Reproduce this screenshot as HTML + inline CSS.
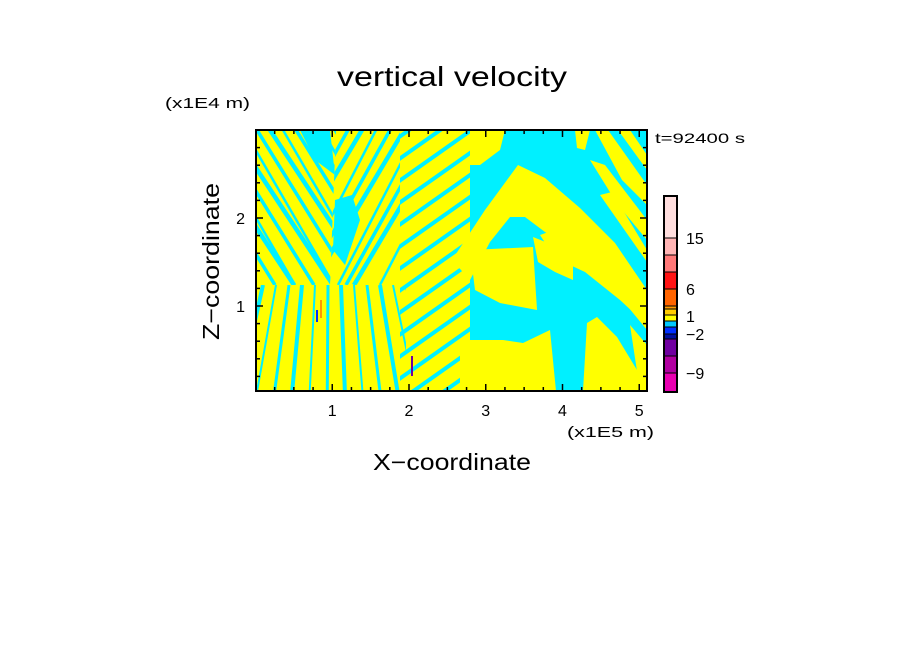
<!DOCTYPE html>
<html><head><meta charset="utf-8"><style>
body{margin:0;background:#fff;}
svg text{font-family:"Liberation Sans","DejaVu Sans",sans-serif;fill:#000;}
</style></head><body>
<svg id="chart" width="904" height="654" viewBox="0 0 904 654" xmlns="http://www.w3.org/2000/svg">
<defs>
<clipPath id="pc"><rect x="256" y="130" width="391" height="261"/></clipPath>
<clipPath id="ul"><polygon points="256,130 336,130 330,285 256,285"/></clipPath>
<clipPath id="ur"><polygon points="336,130 400,130 400,285 330,285"/></clipPath>
<clipPath id="lo"><rect x="256" y="285" width="150" height="106"/></clipPath>
<clipPath id="mid"><rect x="400" y="130" width="70" height="261"/></clipPath>
</defs>
<rect width="904" height="654" fill="#fff"/>
<text x="337" y="86" font-size="28" textLength="230" lengthAdjust="spacingAndGlyphs">vertical velocity</text>
<text x="165" y="108" font-size="15" textLength="85" lengthAdjust="spacingAndGlyphs">(x1E4 m)</text>
<text x="655" y="143" font-size="14" textLength="90" lengthAdjust="spacingAndGlyphs">t=92400 s</text>
<text x="567" y="437" font-size="15" textLength="87" lengthAdjust="spacingAndGlyphs">(x1E5 m)</text>
<text x="373" y="470" font-size="23" textLength="158" lengthAdjust="spacingAndGlyphs">X−coordinate</text>
<text transform="translate(219,340) rotate(-90)" font-size="23" textLength="157" lengthAdjust="spacingAndGlyphs">Z−coordinate</text>
<g id="field" clip-path="url(#pc)">
 <rect x="256" y="130" width="391" height="261" fill="#ffff00"/>
 <g id="gul" clip-path="url(#ul)"></g><g id="gur" clip-path="url(#ur)"></g><g id="glo" clip-path="url(#lo)"></g><g id="gmid" clip-path="url(#mid)"></g><g id="gright"></g>
</g>
<g id="axes"></g>
<g id="cbar"></g>
</svg>
<script>
const xTicks=[1,2,3,4,5];
const yTicks=[1,2];
const cbColors=["#e800b0","#b000a0","#7000a0","#0010a0","#0030ff","#00c8ff","#ffff00","#ffcc00","#ff9900","#ff6400","#ff1414","#ff7878","#ffb4b4","#ffdede"];
const cbUnits=[19,17,17,5,7,6,6,6,3,17,17,17,17,42];
const cbLabels=["-9","−2","1","6","15"];
const cbLabelY=[373,334,316,289,238];
const NS="http://www.w3.org/2000/svg";
const X0=256,X1=647,Y0=130,Y1=391;
const xs=v=>255.5+v*76.75;
const ys=v=>394-v*88;
function mk(t,a,p){const e=document.createElementNS(NS,t);for(const k in a)e.setAttribute(k,a[k]);p.appendChild(e);return e;}
const Y='#ffff00',Cy='#00f0ff';
const gul=document.getElementById('gul'),gur=document.getElementById('gur'),glo=document.getElementById('glo'),gmid=document.getElementById('gmid'),gr=document.getElementById('gright');
let k=0;
for(let x=140;x<=340;x+=13){k++;mk('line',{x1:x,y1:130,x2:x+90+(k%3)*6,y2:285,stroke:Cy,'stroke-width':2.5+(k%3)},gul);}
mk('path',{d:'M300 130 L330 130 L335 175 L315 160 Z',fill:Cy},gul);
for(let x=320;x<=470;x+=14){k++;mk('line',{x1:x,y1:130,x2:x-80-(k%3)*6,y2:285,stroke:Cy,'stroke-width':2.5+(k%3)},gur);}
mk('path',{d:'M335 200 L352 195 L360 220 L345 265 L333 250 Z',fill:Cy},gur);
for(let x=250;x<=420;x+=13){k++;const d=(x-330)*0.35;mk('line',{x1:x,y1:285,x2:x+d,y2:391,stroke:Cy,'stroke-width':2+(k%3)},glo);}
for(let y=140;y<=440;y+=22){mk('line',{x1:395,y1:y,x2:480,y2:y-60,stroke:Cy,'stroke-width':4},gmid);}
mk('rect',{x:470,y:130,width:177,height:261,fill:Cy},gr);
const polys=[
 [[470,130],[505,130],[500,150],[480,165],[470,165]],
 [[575,130],[590,130],[585,150],[577,148]],
 [[452,260],[485,210],[518,165],[545,178],[580,208],[615,243],[647,290],[647,330],[610,285],[575,252],[545,232],[525,217],[510,217],[490,242],[470,280]],
 [[540,235],[560,228],[590,252],[620,282],[647,310],[647,325],[620,300],[585,272],[555,258]],
 [[470,250],[533,247],[537,310],[500,303],[475,290]],
 [[533,237],[573,253],[573,280],[555,272],[538,262]],
 [[460,340],[503,340],[523,343],[550,330],[556,391],[460,391]],
 [[583,391],[587,323],[597,317],[617,337],[637,370],[643,391]],
 [[595,130],[608,130],[647,185],[647,205],[622,180]],
 [[618,130],[630,130],[647,155],[647,170]],
 [[590,160],[605,165],[647,220],[647,240],[618,205]],
 [[600,195],[612,192],[647,250],[647,262],[628,235]],
 [[630,325],[647,345],[647,391],[640,391]]
];
polys.forEach(p=>{mk('path',{d:'M'+p.map(q=>q[0]+' '+q[1]).join(' L')+' Z',fill:Y},gr);});
mk('rect',{x:316,y:310,width:2,height:12,fill:'#0030ff'},gr);
mk('rect',{x:320,y:300,width:2,height:18,fill:'#ff9900'},gr);
mk('rect',{x:411,y:356,width:2,height:20,fill:'#7000a0'},gr);
const A=document.getElementById('axes');
mk('rect',{x:X0,y:Y0,width:391,height:261,fill:'none',stroke:'#000','stroke-width':2},A);
for(let v=0;v<=5.1;v+=0.25){const x=xs(v);if(x<X0||x>X1)continue;const L=Math.abs(v-Math.round(v))<1e-6?7:4;
 mk('line',{x1:x,y1:Y1,x2:x,y2:Y1-L,stroke:'#000','stroke-width':1.5},A);mk('line',{x1:x,y1:Y0,x2:x,y2:Y0+L,stroke:'#000','stroke-width':1.5},A);}
for(let v=0.2;v<=2.95;v+=0.2){const y=ys(v);const L=Math.abs(v-Math.round(v))<1e-6?7:4;
 mk('line',{x1:X0,y1:y,x2:X0+L,y2:y,stroke:'#000','stroke-width':1.5},A);mk('line',{x1:X1,y1:y,x2:X1-L,y2:y,stroke:'#000','stroke-width':1.5},A);}
xTicks.forEach(v=>{const t=mk('text',{x:xs(v),y:416,'font-size':16,'text-anchor':'middle'},A);t.textContent=v;
 
 });
yTicks.forEach(v=>{const t=mk('text',{x:245,y:ys(v)+6,'font-size':16,'text-anchor':'end'},A);t.textContent=v;
 
 });
const C=document.getElementById('cbar');
let y=392;
cbColors.forEach((c,i)=>{const h=cbUnits[i];y-=h;const r=mk('rect',{x:664,y:y,width:13,height:h,fill:c,stroke:'#000','stroke-width':1},C);
 
 });
mk('rect',{x:664,y:y,width:13,height:392-y,fill:'none',stroke:'#000','stroke-width':2},C);
cbLabels.forEach((s,i)=>{const t=mk('text',{x:686,y:cbLabelY[i]+6,'font-size':16},C);t.textContent=s.replace('-','−');
 
 });
</script>
</body></html>
